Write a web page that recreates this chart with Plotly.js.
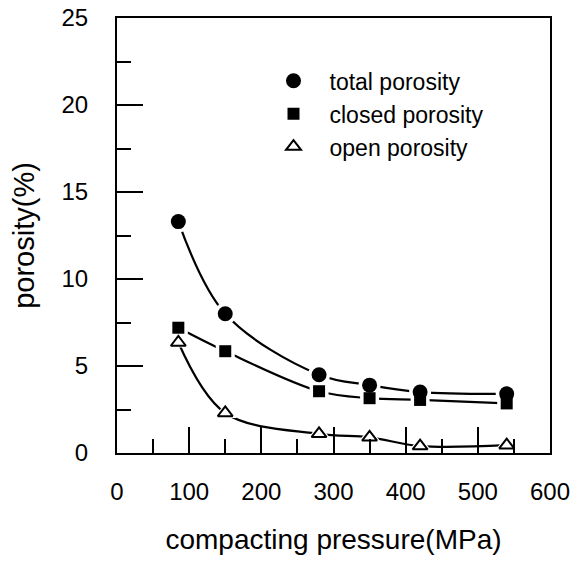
<!DOCTYPE html>
<html><head><meta charset="utf-8">
<script src="https://cdn.plot.ly/plotly-3.0.1.min.js"></script>
<style>html,body{margin:0;padding:0;background:#fff}#plot{width:578px;height:561px}</style>
</head><body><div id="plot"></div>
<script>
const pressure = [85, 150, 280, 350, 420, 540];
const totalPorosity = [13.3, 8.0, 4.5, 3.9, 3.5, 3.4];
const closedPorosity = [7.2, 5.85, 3.55, 3.15, 3.05, 2.85];
const openPorosity = [6.35, 2.3, 1.1, 0.9, 0.4, 0.45];
const seriesNames = ["total porosity", "closed porosity", "open porosity"];
const xTicks = [0, 100, 200, 300, 400, 500, 600];
const yTicks = [0, 5, 10, 15, 20, 25];

const series = [
  {y: totalPorosity, sym: "circle", size: 15, fill: "#000", name: seriesNames[0]},
  {y: closedPorosity, sym: "square", size: 12, fill: "#000", name: seriesNames[1]},
  {y: openPorosity, sym: "triangle-up", size: 13, fill: "#fff", name: seriesNames[2]}
];
const traces = [];
series.forEach(s => traces.push({x: pressure, y: s.y, mode: "lines", line: {shape: "spline", smoothing: 1, color: "#000", width: 2.2}, showlegend: false, hoverinfo: "skip"}));
series.forEach(s => traces.push({x: pressure, y: s.y, mode: "markers", marker: {symbol: s.sym, size: s.size + 7, color: "#fff"}, showlegend: false, hoverinfo: "skip"}));
series.forEach((s, i) => traces.push({x: pressure, y: s.y, mode: "markers", name: s.name, legendgroup: "g" + i,
  marker: {symbol: s.sym, size: s.size, color: s.fill, line: {color: "#000", width: s.fill === "#fff" ? 2 : 0}}}));

const fontFam = "Liberation Sans, Arial, sans-serif";
const axBase = {showgrid: false, zeroline: false, showline: true, linecolor: "#000", linewidth: 2, mirror: true,
  ticks: "inside", tickcolor: "#000", tickwidth: 2, ticklen: 26, tickfont: {family: fontFam, size: 24, color: "#000"}};
const layout = {
  width: 578, height: 561, margin: {l: 117, r: 28, t: 18, b: 108},
  paper_bgcolor: "#fff", plot_bgcolor: "#fff", font: {family: fontFam, color: "#000"},
  xaxis: Object.assign({}, axBase, {range: [0, 600], tickvals: xTicks, ticktext: xTicks.map(String), ticklabelstandoff: 16,
    minor: {ticks: "inside", ticklen: 14, tickcolor: "#000", tickwidth: 2, dtick: 50},
    title: {text: "compacting pressure(MPa)", font: {family: fontFam, size: 28, color: "#000"}, standoff: 26}}),
  yaxis: Object.assign({}, axBase, {range: [0, 25], tickvals: yTicks, ticktext: yTicks.map(String), ticklabelstandoff: 22,
    minor: {ticks: "inside", ticklen: 14, tickcolor: "#000", tickwidth: 2, dtick: 2.5},
    title: {text: "porosity(%)", font: {family: fontFam, size: 29, color: "#000"}, standoff: 18}}),
  legend: {x: 0.3245, y: 0.905, xanchor: "left", yanchor: "top", bgcolor: "rgba(0,0,0,0)", font: {family: fontFam, size: 23, color: "#000"}, tracegroupgap: 0, itemwidth: 62},
  showlegend: true
};
Plotly.newPlot("plot", traces, layout, {displayModeBar: false, staticPlot: true});
</script></body></html>
